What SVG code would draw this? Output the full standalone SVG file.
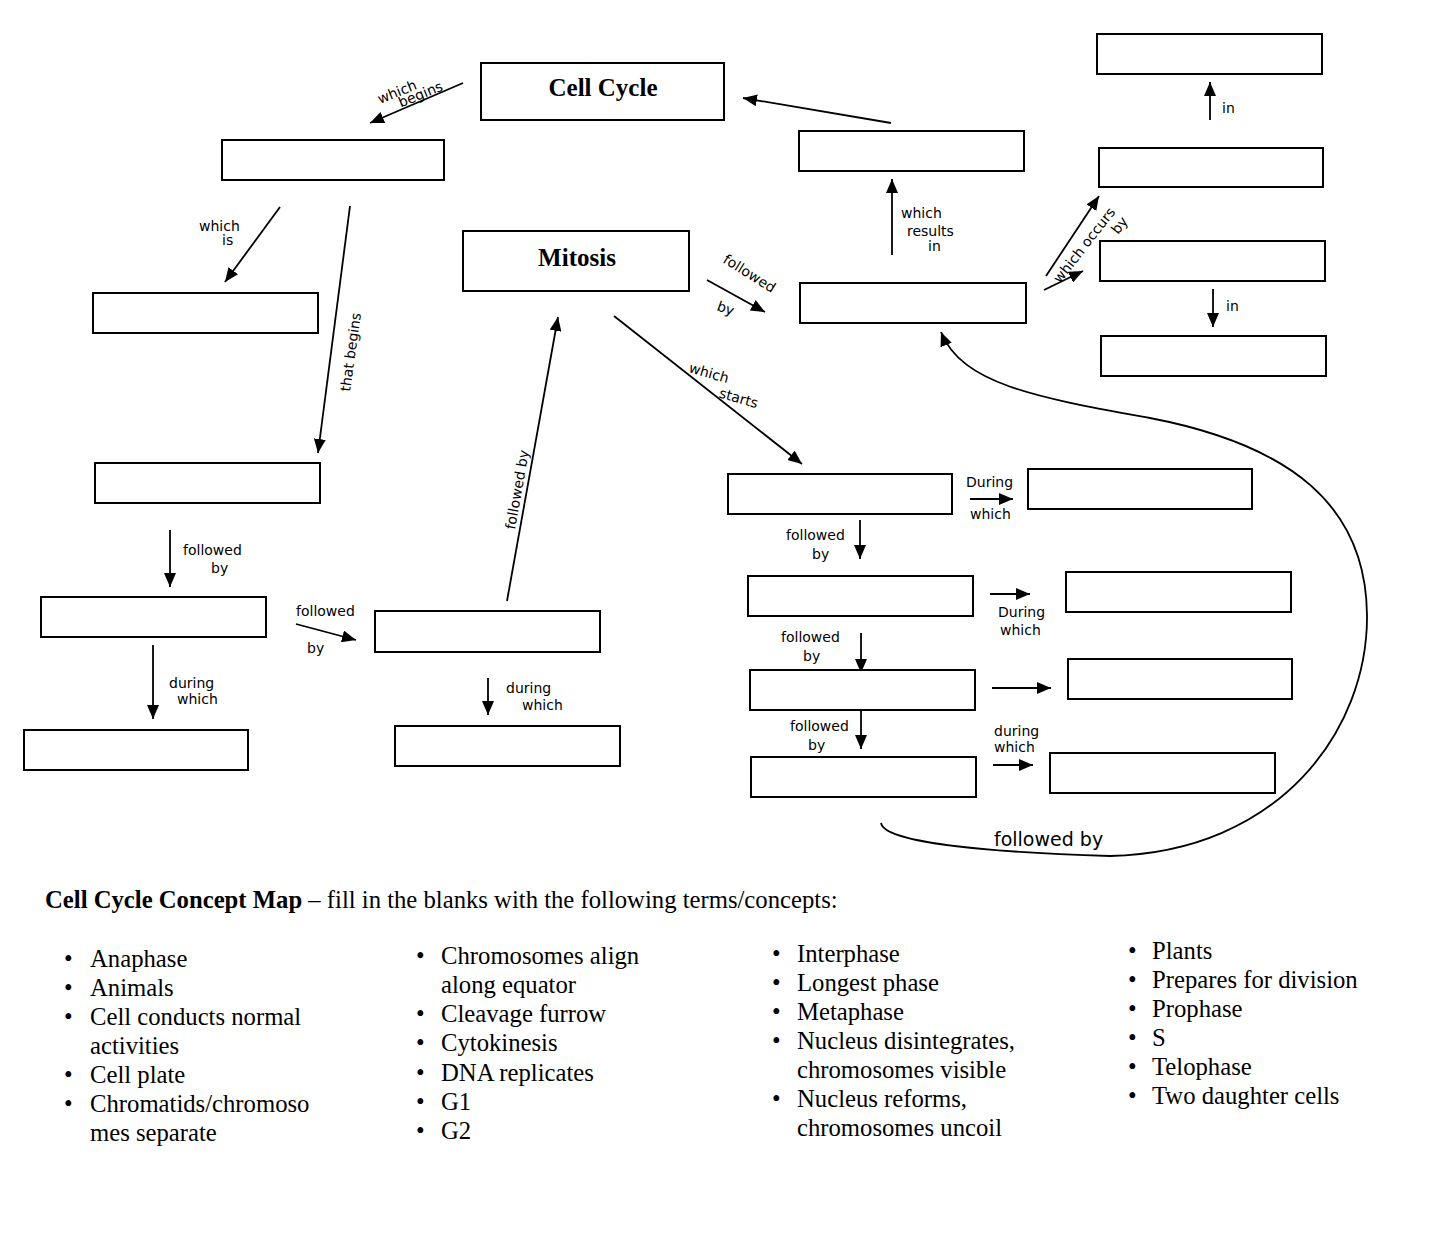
<svg xmlns="http://www.w3.org/2000/svg" width="1435" height="1243" viewBox="0 0 1435 1243">
<style>
.box{fill:#fff;stroke:#000;stroke-width:2}
.arr{fill:none;stroke:#000;stroke-width:1.8;marker-end:url(#ah)}
.title{font-family:"Liberation Serif","Times New Roman",serif;font-weight:bold;font-size:25px;text-anchor:middle}
.hw{font-family:"DejaVu Sans","Liberation Sans",sans-serif;font-size:14px;fill:#000}
.t{font-family:"Liberation Serif","Times New Roman",serif;font-size:24.7px;fill:#000}
.tb{font-weight:bold}
</style>
<defs>
<marker id="ah" markerUnits="userSpaceOnUse" markerWidth="16" markerHeight="12" refX="14" refY="6" orient="auto">
<path d="M0,0 L14,6 L0,12 Z" fill="#000"/>
</marker>
</defs>
<rect width="1435" height="1243" fill="#fff"/>

<g id="connectors">
<line class="arr" x1="463" y1="83" x2="370" y2="123"/>
<line class="arr" x1="891" y1="123" x2="743" y2="98"/>
<line class="arr" x1="280" y1="207" x2="225" y2="282"/>
<line class="arr" x1="350" y1="206" x2="318" y2="453"/>
<line class="arr" x1="707" y1="280" x2="765" y2="312"/>
<line class="arr" x1="614" y1="316" x2="802" y2="464"/>
<line class="arr" x1="892" y1="255" x2="892" y2="179"/>
<line class="arr" x1="1046" y1="276" x2="1099" y2="196"/>
<line class="arr" x1="1044" y1="290" x2="1083" y2="271"/>
<line class="arr" x1="1210" y1="120" x2="1210" y2="82"/>
<line class="arr" x1="1213" y1="289" x2="1213" y2="327"/>
<line class="arr" x1="970" y1="499" x2="1013" y2="499"/>
<line class="arr" x1="860" y1="520" x2="860" y2="559"/>
<line class="arr" x1="990" y1="594" x2="1030" y2="594"/>
<line class="arr" x1="861" y1="633" x2="861" y2="673"/>
<line class="arr" x1="992" y1="688" x2="1051" y2="688"/>
<line class="arr" x1="861" y1="710" x2="861" y2="749"/>
<line class="arr" x1="993" y1="765" x2="1033" y2="765"/>
<path class="arr" d="M881,823 C884,842 980,852 1110,856 C1280,852 1368,730 1367,615 C1366,505 1290,445 1150,418 C1040,398 962,385 941,332"/>
<line class="arr" x1="170" y1="530" x2="170" y2="587"/>
<line class="arr" x1="153" y1="645" x2="153" y2="719"/>
<line class="arr" x1="296" y1="624" x2="356" y2="640"/>
<line class="arr" x1="507" y1="601" x2="558" y2="317"/>
<line class="arr" x1="488" y1="678" x2="488" y2="715"/>

<g class="hw">
<g transform="translate(380,104) rotate(-22)"><text x="0" y="0">which</text><text x="18" y="11">begins</text></g>
<text x="199" y="231">which</text><text x="222" y="245">is</text>
<text transform="translate(350,392) rotate(-82)">that begins</text>
<g transform="translate(722,262) rotate(32)"><text x="0" y="0">followed</text></g>
<text x="716" y="310" transform="rotate(20 716 310)">by</text>
<g transform="translate(688,372) rotate(16)"><text x="0" y="0">which</text><text x="36" y="16">starts</text></g>
<text x="901" y="218">which</text><text x="907" y="236">results</text><text x="928" y="251">in</text>
<text transform="translate(1060,284) rotate(-52)">which occurs</text>
<text transform="translate(1118,235) rotate(-52)">by</text>
<text x="1222" y="113">in</text>
<text x="1226" y="311">in</text>
<text x="966" y="487">During</text><text x="970" y="519">which</text>
<text x="786" y="540">followed</text><text x="812" y="559">by</text>
<text x="998" y="617">During</text><text x="1000" y="635">which</text>
<text x="781" y="642">followed</text><text x="803" y="661">by</text>
<text x="790" y="731">followed</text><text x="808" y="750">by</text>
<text x="994" y="736">during</text><text x="994" y="752">which</text>
<text x="994" y="846" style="font-size:19px">followed by</text>
<text x="183" y="555">followed</text><text x="211" y="573">by</text>
<text x="169" y="688">during</text><text x="177" y="704">which</text>
<text x="296" y="616">followed</text><text x="307" y="653">by</text>
<text transform="translate(515,530) rotate(-80)">followed by</text>
<text x="506" y="693">during</text><text x="522" y="710">which</text>
</g>
</g>

<g id="n-cellcycle"><rect class="box" x="481" y="63" width="243" height="57"/><text class="title" x="603" y="96">Cell Cycle</text></g>
<g id="n-a"><rect class="box" x="222" y="140" width="222" height="40"/></g>
<g id="n-mitosis"><rect class="box" x="463" y="231" width="226" height="60"/><text class="title" x="577" y="266">Mitosis</text></g>
<g id="n-b"><rect class="box" x="93" y="293" width="225" height="40"/></g>
<g id="n-c"><rect class="box" x="95" y="463" width="225" height="40"/></g>
<g id="n-d"><rect class="box" x="41" y="597" width="225" height="40"/></g>
<g id="n-e"><rect class="box" x="24" y="730" width="224" height="40"/></g>
<g id="n-f"><rect class="box" x="375" y="611" width="225" height="41"/></g>
<g id="n-g"><rect class="box" x="395" y="726" width="225" height="40"/></g>
<g id="n-h"><rect class="box" x="800" y="283" width="226" height="40"/></g>
<g id="n-i"><rect class="box" x="799" y="131" width="225" height="40"/></g>
<g id="n-j"><rect class="box" x="1097" y="34" width="225" height="40"/></g>
<g id="n-k"><rect class="box" x="1099" y="148" width="224" height="39"/></g>
<g id="n-l"><rect class="box" x="1100" y="241" width="225" height="40"/></g>
<g id="n-m"><rect class="box" x="1101" y="336" width="225" height="40"/></g>
<g id="n-p1"><rect class="box" x="728" y="474" width="224" height="40"/></g>
<g id="n-p2"><rect class="box" x="748" y="576" width="225" height="40"/></g>
<g id="n-p3"><rect class="box" x="750" y="670" width="225" height="40"/></g>
<g id="n-p4"><rect class="box" x="751" y="757" width="225" height="40"/></g>
<g id="n-r1"><rect class="box" x="1028" y="469" width="224" height="40"/></g>
<g id="n-r2"><rect class="box" x="1066" y="572" width="225" height="40"/></g>
<g id="n-r3"><rect class="box" x="1068" y="659" width="224" height="40"/></g>
<g id="n-r4"><rect class="box" x="1050" y="753" width="225" height="40"/></g>

<g id="legend">
<text x="45" y="908" class="t"><tspan class="tb">Cell Cycle Concept Map</tspan> – fill in the blanks with the following terms/concepts:</text>
<g class="t">
<text x="64" y="967">•</text><text x="90" y="967">Anaphase</text>
<text x="64" y="996">•</text><text x="90" y="996">Animals</text>
<text x="64" y="1025">•</text><text x="90" y="1025">Cell conducts normal</text>
<text x="90" y="1054">activities</text>
<text x="64" y="1083">•</text><text x="90" y="1083">Cell plate</text>
<text x="64" y="1112">•</text><text x="90" y="1112">Chromatids/chromoso</text>
<text x="90" y="1141">mes separate</text>

<text x="416" y="964">•</text><text x="441" y="964">Chromosomes align</text>
<text x="441" y="993">along equator</text>
<text x="416" y="1022">•</text><text x="441" y="1022">Cleavage furrow</text>
<text x="416" y="1051">•</text><text x="441" y="1051">Cytokinesis</text>
<text x="416" y="1081">•</text><text x="441" y="1081">DNA replicates</text>
<text x="416" y="1110">•</text><text x="441" y="1110">G1</text>
<text x="416" y="1139">•</text><text x="441" y="1139">G2</text>

<text x="772" y="962">•</text><text x="797" y="962">Interphase</text>
<text x="772" y="991">•</text><text x="797" y="991">Longest phase</text>
<text x="772" y="1020">•</text><text x="797" y="1020">Metaphase</text>
<text x="772" y="1049">•</text><text x="797" y="1049">Nucleus disintegrates,</text>
<text x="797" y="1078">chromosomes visible</text>
<text x="772" y="1107">•</text><text x="797" y="1107">Nucleus reforms,</text>
<text x="797" y="1136">chromosomes uncoil</text>

<text x="1128" y="959">•</text><text x="1152" y="959">Plants</text>
<text x="1128" y="988">•</text><text x="1152" y="988">Prepares for division</text>
<text x="1128" y="1017">•</text><text x="1152" y="1017">Prophase</text>
<text x="1128" y="1046">•</text><text x="1152" y="1046">S</text>
<text x="1128" y="1075">•</text><text x="1152" y="1075">Telophase</text>
<text x="1128" y="1104">•</text><text x="1152" y="1104">Two daughter cells</text>
</g>
</g>
</svg>
